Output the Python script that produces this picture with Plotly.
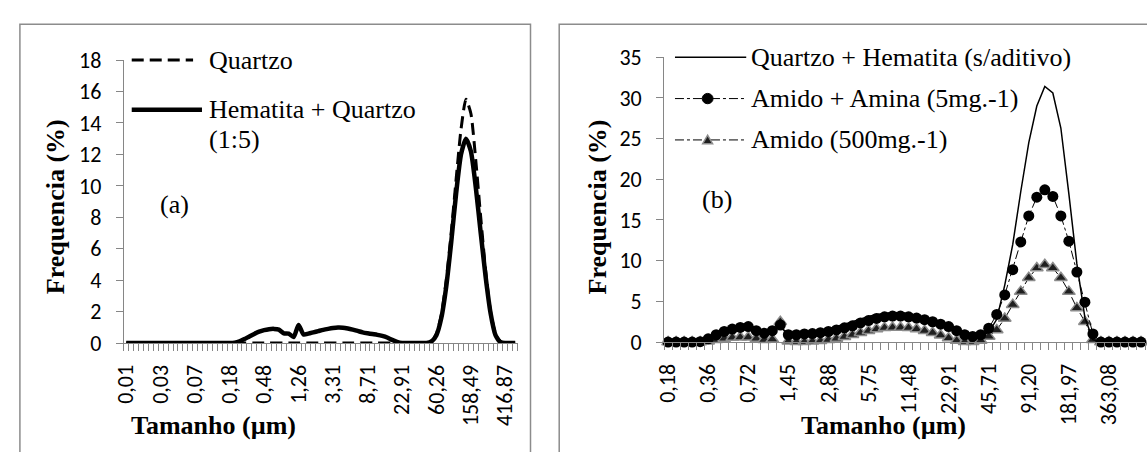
import plotly.graph_objects as go

# ---------------- data ----------------
# size classes (µm), k = 0..80
size_um = ["0,01", "0,01", "0,01", "0,02", "0,02", "0,02", "0,02", "0,03", "0,03", "0,03",
           "0,04", "0,05", "0,05", "0,06", "0,07", "0,08", "0,09", "0,10", "0,12", "0,14",
           "0,16", "0,18", "0,21", "0,24", "0,28", "0,32", "0,36", "0,42", "0,48", "0,55",
           "0,63", "0,72", "0,83", "0,95", "1,10", "1,26", "1,45", "1,66", "1,91", "2,19",
           "2,51", "2,88", "3,31", "3,80", "4,37", "5,01", "5,75", "6,61", "7,59", "8,71",
           "10,00", "11,48", "13,18", "15,14", "17,38", "19,95", "22,91", "26,30", "30,20", "34,67",
           "39,81", "45,71", "52,48", "60,26", "69,18", "79,43", "91,20", "104,71", "120,23", "138,04",
           "158,49", "181,97", "208,93", "239,88", "275,42", "316,23", "363,08", "416,87", "478,63", "549,54",
           "630,96"]

# panel (a): classes k = 0..79
cats_a = size_um[0:80]
ticklabels_a = ["0,01", "0,03", "0,07", "0,18", "0,48", "1,26", "3,31", "8,71",
                "22,91", "60,26", "158,49", "416,87"]
quartzo = [0, 0, 0, 0, 0, 0, 0, 0, 0, 0,
           0, 0, 0, 0, 0, 0, 0, 0, 0, 0,
           0, 0, 0, 0, 0, 0, 0, 0, 0, 0,
           0, 0, 0, 0, 0, 0, 0, 0, 0, 0,
           0, 0, 0, 0, 0, 0, 0, 0, 0, 0,
           0, 0, 0, 0, 0, 0, 0, 0, 0, 0,
           0, 0, 0.1, 0.6, 1.8, 4.0, 7.0, 10.4, 13.6, 15.5,
           14.6, 11.6, 8.0, 4.6, 2.0, 0.6, 0.1, 0, 0, 0]
hem_quartzo = [0, 0, 0, 0, 0, 0, 0, 0, 0, 0,
               0, 0, 0, 0, 0, 0, 0, 0, 0, 0,
               0, 0, 0.02, 0.1, 0.25, 0.42, 0.58, 0.72, 0.82, 0.88,
               0.9, 0.85, 0.62, 0.6, 0.38, 1.15, 0.55, 0.6, 0.68, 0.76,
               0.84, 0.9, 0.95, 0.98, 0.97, 0.92, 0.85, 0.77, 0.68, 0.62,
               0.57, 0.52, 0.45, 0.35, 0.2, 0.07, 0, 0, 0, 0,
               0, 0, 0.1, 0.5, 1.6, 3.6, 6.4, 9.5, 12.0, 13.0,
               12.2, 9.9, 7.0, 4.2, 1.9, 0.5, 0.05, 0, 0, 0]

# panel (b): classes k = 21..80
cats_b = size_um[21:81]
ticklabels_b = ["0,18", "0,36", "0,72", "1,45", "2,88", "5,75", "11,48", "22,91",
                "45,71", "91,20", "181,97", "363,08"]
sem_aditivo = [0, 0, 0, 0, 0.05, 0.6, 1.1, 1.5, 1.9, 2.1,
               2.3, 1.6, 1.3, 1.6, 1.8, 1.1, 1.1, 1.2, 1.3, 1.45,
               1.65, 1.9, 2.2, 2.5, 2.85, 3.15, 3.4, 3.55, 3.65, 3.6,
               3.5, 3.3, 3.05, 2.75, 2.4, 2.05, 1.5, 1.0, 0.7, 0.8,
               1.2, 2.8, 7.0, 12.0, 18.5, 24.5, 29.0, 31.4, 30.6, 26.3,
               18.2, 9.6, 3.0, 0.3, 0, 0, 0, 0, 0, 0]
amido_amina = [0, 0, 0, 0, 0.05, 0.4, 0.9, 1.3, 1.6, 1.8,
               1.9, 1.4, 1.1, 1.4, 2.1, 0.9, 0.9, 1.0, 1.05, 1.15,
               1.3, 1.5, 1.75, 2.0, 2.35, 2.65, 2.9, 3.1, 3.2, 3.2,
               3.1, 2.95, 2.75, 2.5, 2.2, 1.9, 1.4, 0.9, 0.7, 0.9,
               1.7, 3.4, 5.8, 8.9, 12.3, 15.5, 17.8, 18.7, 17.9, 15.5,
               12.4, 8.6, 4.9, 1.0, 0, 0, 0, 0, 0, 0]
amido = [0, 0, 0, 0, 0, 0.1, 0.3, 0.45, 0.55, 0.6,
         0.6, 0.45, 0.3, 0.35, 2.5, 0.1, 0.05, 0.05, 0.1, 0.15,
         0.3, 0.45, 0.65, 0.9, 1.15, 1.4, 1.6, 1.75, 1.8, 1.8,
         1.75, 1.6, 1.4, 1.15, 0.85, 0.5, 0.2, 0.05, 0.05, 0.2,
         0.7, 1.5, 2.9, 4.6, 6.2, 7.9, 9.1, 9.5, 9.1, 7.9,
         6.2, 4.2, 2.5, 0.3, 0, 0, 0, 0, 0, 0]

# ---------------- layout helpers ----------------
W, H = 1147, 452
def px(x):
    return x / W
def py(y):
    return (H - y) / H

SERIF = "Liberation Serif, Times New Roman, serif"
SANS = "Carlito, Calibri, Lato, sans-serif"
AXC = "#868686"

xa = list(range(len(cats_a)))
xb = list(range(len(cats_b)))
tv_a = [i * 7 for i in range(len(ticklabels_a))]
tv_b = [i * 5 for i in range(len(ticklabels_b))]

fig = go.Figure()

# panel (a)
fig.add_trace(go.Scatter(x=xa, y=quartzo, mode="lines", name="Quartzo",
                         line=dict(color="black", width=3, dash="12px,6px", shape="spline", smoothing=0.6),
                         cliponaxis=False, xaxis="x", yaxis="y", showlegend=False))
fig.add_trace(go.Scatter(x=xa, y=hem_quartzo, mode="lines", name="Hematita + Quartzo (1:5)",
                         line=dict(color="black", width=4.5, shape="spline", smoothing=0.6),
                         cliponaxis=False, xaxis="x", yaxis="y", showlegend=False))

# panel (b)
fig.add_trace(go.Scatter(x=xb, y=amido, mode="lines+markers", name="Amido (500mg.-1)",
                         line=dict(color="black", width=1, dash="dashdot"),
                         marker=dict(symbol="triangle-up", size=11, color="#1f1f1f",
                                     line=dict(color="#8c8c8c", width=1.5)),
                         cliponaxis=False, xaxis="x2", yaxis="y2", showlegend=False))
fig.add_trace(go.Scatter(x=xb, y=sem_aditivo, mode="lines", name="Quartzo + Hematita (s/aditivo)",
                         line=dict(color="black", width=1.5),
                         cliponaxis=False, xaxis="x2", yaxis="y2", showlegend=False))
fig.add_trace(go.Scatter(x=xb, y=amido_amina, mode="lines+markers", name="Amido + Amina (5mg.-1)",
                         line=dict(color="black", width=1, dash="dashdot"),
                         marker=dict(symbol="circle", size=11, color="black"),
                         cliponaxis=False, xaxis="x2", yaxis="y2", showlegend=False))

tickfont = dict(family=SANS, size=22, color="black")

xcommon = dict(showline=True, linecolor=AXC, linewidth=1, showgrid=False, zeroline=False,
               ticks="", tickangle=-90, tickfont=tickfont, ticklabelstandoff=12,
               minor=dict(ticks="outside", ticklen=7, tickcolor=AXC, tickwidth=1,
                          tick0=-0.5, dtick=1, showgrid=False))
ycommon = dict(showline=True, linecolor=AXC, linewidth=1, showgrid=False, zeroline=False,
               ticks="outside", ticklen=7, tickcolor=AXC, tickfont=tickfont,
               ticklabelstandoff=10)

fig.update_layout(
    width=W, height=H, margin=dict(l=0, r=0, t=0, b=0),
    paper_bgcolor="white", plot_bgcolor="white",
    xaxis=dict(domain=[px(114), px(512)], range=[-0.5, 79.5], anchor="y",
               tickmode="array", tickvals=tv_a, ticktext=ticklabels_a, **xcommon),
    yaxis=dict(domain=[1 - 351 / H, 1 - 50 / H], range=[0, 18], dtick=2, anchor="x", **ycommon),
    xaxis2=dict(domain=[px(660), px(1146)], range=[-0.5, 59.5], anchor="y2",
                tickmode="array", tickvals=tv_b, ticktext=ticklabels_b, **xcommon),
    yaxis2=dict(domain=[1 - 350 / H, 1 - 47 / H], range=[0, 35], dtick=5, anchor="x2", **ycommon),
)

shapes = []
# chart-area borders
shapes.append(dict(type="rect", xref="paper", yref="paper", x0=px(9), x1=px(525), y0=-0.1, y1=py(12),
                   line=dict(color="#8c8c8c", width=1.5), fillcolor="rgba(0,0,0,0)", layer="below"))
shapes.append(dict(type="rect", xref="paper", yref="paper", x0=px(554), x1=px(1170), y0=-0.1, y1=py(12),
                   line=dict(color="#8c8c8c", width=1.5), fillcolor="rgba(0,0,0,0)", layer="below"))
# legend samples (a)
shapes.append(dict(type="line", xref="paper", yref="paper", x0=px(122), x1=px(184), y0=py(50), y1=py(50),
                   line=dict(color="black", width=3, dash="12px,6px")))
shapes.append(dict(type="line", xref="paper", yref="paper", x0=px(122), x1=px(193), y0=py(103), y1=py(103),
                   line=dict(color="black", width=4.5)))
# legend samples (b)
shapes.append(dict(type="line", xref="paper", yref="paper", x0=px(671), x1=px(743), y0=py(47), y1=py(47),
                   line=dict(color="black", width=1.5)))
for yy in (91, 135):
    shapes.append(dict(type="line", xref="paper", yref="paper", x0=px(671), x1=px(743), y0=py(yy), y1=py(yy),
                       line=dict(color="black", width=1, dash="dashdot")))
shapes.append(dict(type="circle", xref="paper", yref="paper", x0=px(698.5), x1=px(709.5), y0=py(96.5), y1=py(85.5),
                   line=dict(color="black", width=1), fillcolor="black"))
tri = "M {} {} L {} {} L {} {} Z".format(px(699), py(139), px(709), py(139), px(704), py(130))
shapes.append(dict(type="path", xref="paper", yref="paper", path=tri,
                   line=dict(color="#8c8c8c", width=1.5), fillcolor="#1f1f1f"))
fig.update_layout(shapes=shapes)

ann = []
def text(x, y, s, size=26, bold=False, xanchor="left", angle=0):
    ann.append(dict(xref="paper", yref="paper", x=px(x), y=py(y), text=("<b>%s</b>" % s) if bold else s,
                    showarrow=False, xanchor=xanchor, yanchor="middle", textangle=angle,
                    font=dict(family=SERIF, size=size, color="black")))

text(198, 50, "Quartzo")
text(198, 103, "Hematita + Quartzo")
text(198, 135, "(1:5)")
text(165, 204, "(a)", xanchor="center")
text(746, 47, "Quartzo + Hematita (s/aditivo)")
text(746, 91, "Amido + Amina (5mg.-1)")
text(746, 135, "Amido (500mg.-1)")
text(713, 198, "(b)", xanchor="center")
text(45, 206, "Frequencia (%)", bold=True, xanchor="center", angle=-90)
text(593, 206, "Frequencia (%)", bold=True, xanchor="center", angle=-90)
text(205, 439, "Tamanho (µm)", bold=True, xanchor="center")
text(882, 439, "Tamanho (µm)", bold=True, xanchor="center")
fig.update_layout(annotations=ann)

fig.write_html("out.html", config={"displayModeBar": False},
               post_script="document.body.style.margin='0';")
